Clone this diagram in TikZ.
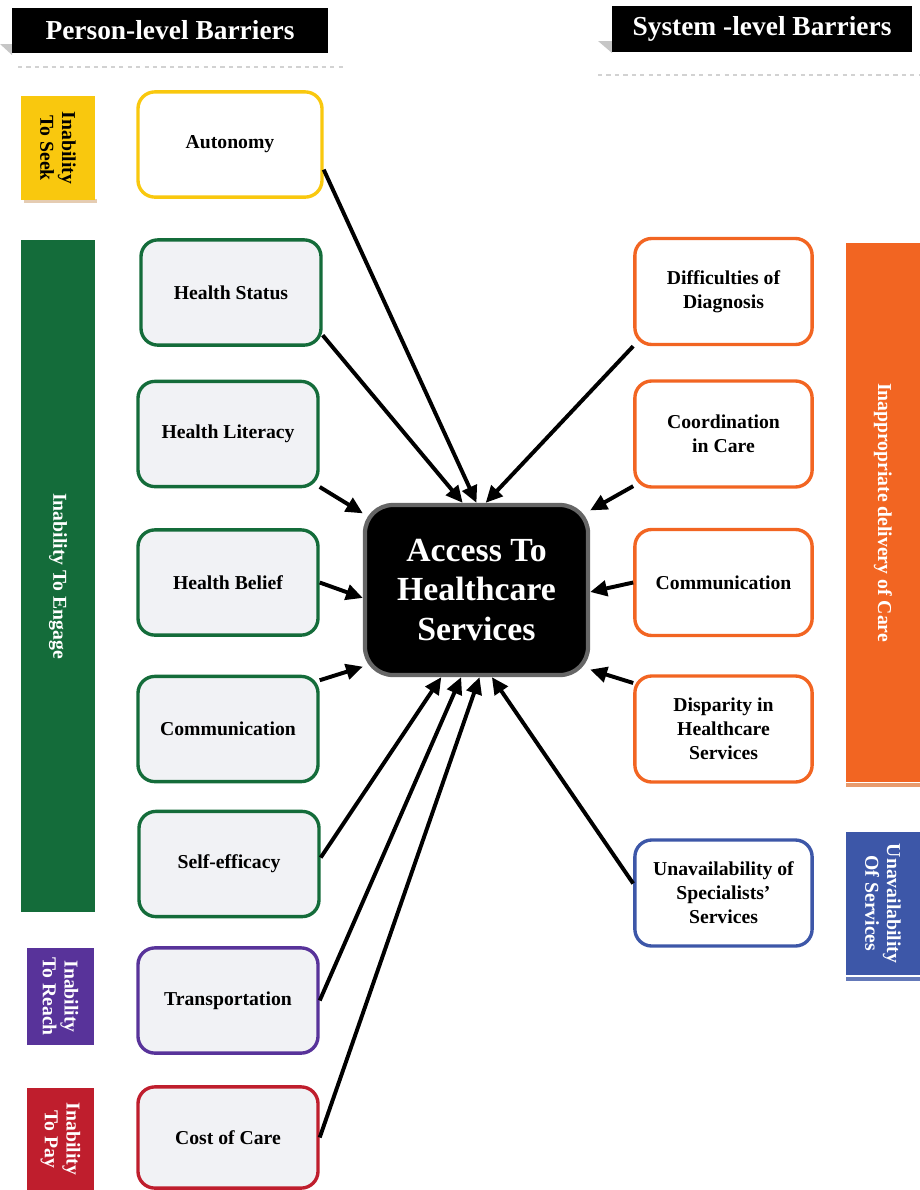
\documentclass[tikz,border=0pt]{standalone}
\usepackage{fontspec}
\setmainfont{Liberation Serif}
\usetikzlibrary{arrows.meta}

\definecolor{seekyellow}{HTML}{F9C80E}
\definecolor{engagegreen}{HTML}{146C3A}
\definecolor{reachpurple}{HTML}{58339A}
\definecolor{payred}{HTML}{BF1E2D}
\definecolor{careorange}{HTML}{F26522}
\definecolor{serviceblue}{HTML}{3D57A8}
\definecolor{boxgray}{HTML}{F1F2F5}

\tikzset{
  barrier/.style={draw, line width=2.4pt, rounded corners=12pt, fill=boxgray,
    minimum width=4.5cm, minimum height=2.63cm, align=center,
    font=\bfseries\fontsize{14}{17}\selectfont},
  sysbarrier/.style={barrier, fill=white, minimum width=4.43cm, minimum height=2.65cm},
  catbar/.style={rotate=-90, text=white, align=center, inner sep=0pt,
    font=\bfseries\fontsize{14}{15.5}\selectfont},
  header/.style={fill=black, text=white, inner sep=0pt,
    font=\bfseries\fontsize{19.5}{22}\selectfont},
  link/.style={line width=2.8pt, -{Triangle[length=12pt,width=11pt]}},
}

\begin{document}
\begin{tikzpicture}[x=0.025cm, y=-0.025cm]
  \useasboundingbox (0,0) rectangle (920,1190);

  % headers
  \fill[gray!45] (0,44) -- (12,44) -- (12,55) -- cycle;
  \node[header, minimum width=7.9cm, minimum height=1.125cm] (personhead) at (170,30.5) {Person-level Barriers};
  \draw[gray!35, line width=1.5pt, dashed] (18,67) -- (345,67);
  \fill[gray!45] (598,41) -- (612,41) -- (612,53) -- cycle;
  \node[header, minimum width=7.5cm, minimum height=1.15cm] (systemhead) at (762,29) {System -level Barriers};
  \draw[gray!35, line width=1.5pt, dashed] (598,75) -- (920,75);

  % category bars, left
  \fill[brown!40] (24,199) rectangle (97,203);
  \node[catbar, fill=seekyellow, text=black, minimum width=2.6cm, minimum height=1.85cm] (seek) at (58,148) {Inability\\To Seek};
  \node[catbar, fill=engagegreen, minimum width=16.8cm, minimum height=1.85cm] (engage) at (58,576) {Inability To Engage};
  \node[catbar, fill=reachpurple, minimum width=2.425cm, minimum height=1.675cm] (reach) at (60.5,996.5) {Inability\\To Reach};
  \node[catbar, fill=payred, minimum width=2.55cm, minimum height=1.675cm] (pay) at (60.5,1139) {Inability\\To Pay};

  % category bars, right
  \fill[careorange!60!brown!70] (846,783) rectangle (920,787);
  \node[catbar, fill=careorange, minimum width=13.475cm, minimum height=1.85cm] (care) at (883,512.5) {Inappropriate delivery of Care};
  \fill[serviceblue!80] (846,977) rectangle (920,981);
  \node[catbar, fill=serviceblue, minimum width=3.575cm, minimum height=1.85cm] (services) at (883,903.5) {Unavailability\\Of Services};

  % centre
  \node[fill=black, draw=gray!80!black, line width=3pt, rounded corners=20pt,
    minimum width=5.575cm, minimum height=4.25cm, text=white, align=center,
    font=\bfseries\fontsize{24}{28}\selectfont] (access) at (476.5,590) {Access To\\Healthcare\\Services};

  % person-level barriers
  \node[barrier, draw=seekyellow, fill=white, minimum width=4.6cm] (autonomy) at (230,144.5) {Autonomy};
  \node[barrier, draw=engagegreen] (hstatus) at (231,292.5) {Health Status};
  \node[barrier, draw=engagegreen] (hliteracy) at (228,434) {Health Literacy};
  \node[barrier, draw=engagegreen] (hbelief) at (228,582.5) {Health Belief};
  \node[barrier, draw=engagegreen] (pcomm) at (228,729) {Communication};
  \node[barrier, draw=engagegreen] (selfeff) at (229,864) {Self-efficacy};
  \node[barrier, draw=reachpurple] (transport) at (228,1000.5) {Transportation};
  \node[barrier, draw=payred, minimum height=2.53cm] (cost) at (228,1137.5) {Cost of Care};

  % system-level barriers
  \node[sysbarrier, draw=careorange] (diagnosis) at (723.5,291.5) {Difficulties of\\Diagnosis};
  \node[sysbarrier, draw=careorange] (coord) at (723.5,434) {Coordination\\in Care};
  \node[sysbarrier, draw=careorange] (scomm) at (723.5,582.5) {Communication};
  \node[sysbarrier, draw=careorange] (disparity) at (723.5,729) {Disparity in\\Healthcare\\Services};
  \node[sysbarrier, draw=serviceblue] (specialists) at (723.5,893) {Unavailability of\\Specialists'\\Services};

  % arrows
  \draw[link] (autonomy.345) -- (access.90);
  \draw[link] (hstatus.335) -- (access.99);
  \draw[link] (hliteracy.330) -- (access.146);
  \draw[link] (hbelief.east) -- (access.184);
  \draw[link] (pcomm.28) -- (access.214);
  \draw[link] (selfeff.4) -- (access.248);
  \draw[link] (transport.east) -- (access.260);
  \draw[link] (cost.east) -- (access.272);
  \draw[link] (diagnosis.south west) -- (access.84);
  \draw[link] (coord.210) -- (access.35);
  \draw[link] (scomm.west) -- (access.359);
  \draw[link] (disparity.153) -- (access.325);
  \draw[link] (specialists.174) -- (access.280);
\end{tikzpicture}
\end{document}
